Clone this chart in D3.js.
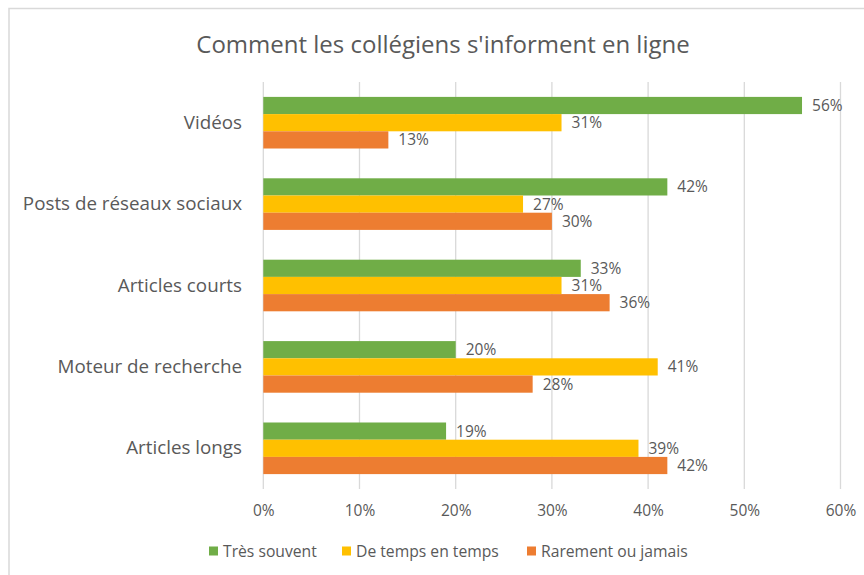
<!DOCTYPE html>
<html>
<head>
<meta charset="utf-8">
<script src="https://cdn.jsdelivr.net/npm/d3@7"></script>
<style>
  body { margin: 0; background: #fff; }
  svg text { font-family: "Open Sans", sans-serif; fill: #595959; }
</style>
</head>
<body>
<svg width="864" height="575"></svg>
<script>
// data
var categories = ["Vidéos", "Posts de réseaux sociaux", "Articles courts", "Moteur de recherche", "Articles longs"];
var seriesNames = ["Très souvent", "De temps en temps", "Rarement ou jamais"];
var tresSouvent = [56, 42, 33, 20, 19];
var deTempsEnTemps = [31, 27, 31, 41, 39];
var rarement = [13, 30, 36, 28, 42];
var xTicks = [0, 10, 20, 30, 40, 50, 60];
var colors = ["#70ad47", "#ffc000", "#ed7d31"];

var seriesValues = [tresSouvent, deTempsEnTemps, rarement];
var fontFam = "'Open Sans', sans-serif";

var svg = d3.select("svg"),
    width = +svg.attr("width"),
    height = +svg.attr("height");

// chart border
svg.append("rect")
    .attr("x", 9).attr("y", 8.5)
    .attr("width", width).attr("height", height)
    .attr("fill", "none")
    .attr("stroke", "#d9d9d9")
    .attr("stroke-width", 1.5);

svg.append("text")
    .attr("x", 443)
    .attr("y", 53)
    .attr("text-anchor", "middle")
    .attr("font-size", 24)
    .text("Comment les collégiens s'informent en ligne");

var x = d3.scaleLinear()
    .domain([0, 60])
    .range([263.3, 840.5]);

var y = d3.scaleBand()
    .domain(categories)
    .range([82, 489])
    .paddingInner(0.366)
    .paddingOuter(0.183);

var ySub = d3.scaleBand()
    .domain(seriesNames)
    .range([0, y.bandwidth()]);

// gridlines
svg.append("g")
    .selectAll("line")
    .data(xTicks)
    .enter().append("line")
    .attr("x1", function(d) { return x(d); })
    .attr("x2", function(d) { return x(d); })
    .attr("y1", 82)
    .attr("y2", 489)
    .attr("stroke", "#d9d9d9")
    .attr("stroke-width", 1.3);

// x axis labels
var xAxis = svg.append("g")
    .attr("transform", "translate(0,489)")
    .call(d3.axisBottom(x)
      .tickValues(xTicks)
      .tickSize(0)
      .tickPadding(16)
      .tickFormat(function(d) { return d + "%"; }));
xAxis.select(".domain").remove();
xAxis.selectAll("text")
    .attr("font-size", 15.5)
    .attr("fill", "#595959")
    .style("font-family", fontFam);

// category labels
var yAxis = svg.append("g")
    .attr("transform", "translate(242,0)")
    .call(d3.axisLeft(y).tickSize(0).tickPadding(0));
yAxis.select(".domain").remove();
yAxis.selectAll("text")
    .attr("font-size", 18.8)
    .attr("fill", "#595959")
    .style("font-family", fontFam);

// bars
var groups = svg.append("g")
    .selectAll("g")
    .data(categories)
    .enter().append("g")
    .attr("transform", function(d) { return "translate(0," + y(d) + ")"; });

seriesNames.forEach(function(name, si) {
  groups.append("rect")
      .attr("x", x(0))
      .attr("y", ySub(name))
      .attr("width", function(d, i) { return x(seriesValues[si][i]) - x(0); })
      .attr("height", ySub.bandwidth())
      .attr("fill", colors[si]);

  groups.append("text")
      .attr("x", function(d, i) { return x(seriesValues[si][i]) + 10; })
      .attr("y", ySub(name) + ySub.bandwidth() / 2)
      .attr("dy", "0.35em")
      .attr("font-size", 15.5)
      .text(function(d, i) { return seriesValues[si][i] + "%"; });
});

// legend
var legendX = [209, 342, 527];
var legend = svg.append("g")
    .selectAll("g")
    .data(seriesNames)
    .enter().append("g")
    .attr("transform", function(d, i) { return "translate(" + legendX[i] + ",551)"; });

legend.append("rect")
    .attr("x", 0).attr("y", -4.5)
    .attr("width", 9).attr("height", 9)
    .attr("fill", function(d, i) { return colors[i]; });

legend.append("text")
    .attr("x", 14)
    .attr("dy", "0.35em")
    .attr("font-size", 15.7)
    .text(function(d) { return d; });
</script>
</body>
</html>
